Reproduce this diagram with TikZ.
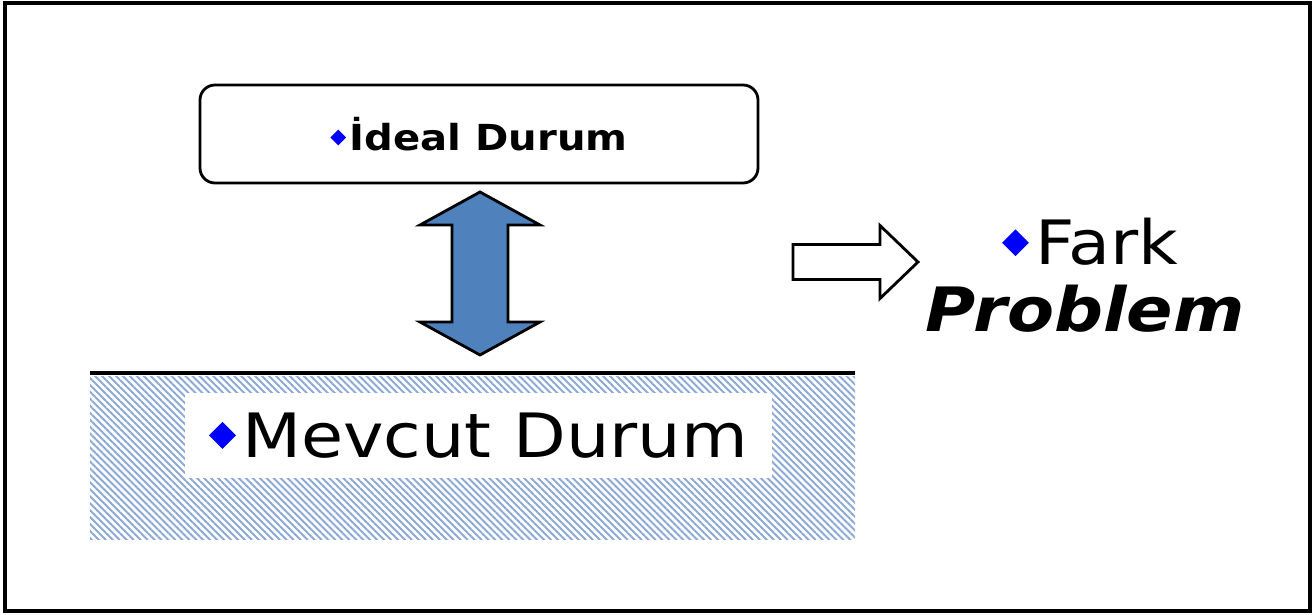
\documentclass[tikz,border=0pt]{standalone}
\usepackage{fontspec}
\setmainfont[FakeStretch=1.12]{DejaVu Sans}
\usepackage{tikz}
\usetikzlibrary{calc}
\usetikzlibrary{patterns.meta}
\definecolor{ofismavi}{RGB}{79,129,189}
\definecolor{tarama}{RGB}{140,168,212}
% small blue bullet in front of each text
\newcommand{\madde}{\tikz[baseline=-0.36em]\fill[blue,draw=none,sharp corners] (0,0.22em)--(0.22em,0)--(0,-0.22em)--(-0.22em,0)--cycle;\hspace{0.1em}}

\begin{document}
\begin{tikzpicture}[
	kutu/.style={draw,line width=0.8pt,rounded corners=1.5mm,minimum width=5.58cm,minimum height=0.98cm},
	blokok/.style={draw,line width=0.8pt,line join=miter},
	buyuk/.style={font=\fontsize{17.4}{20}\selectfont}]
	\useasboundingbox (0,0) rectangle (13.16,6.15);
	\draw[line width=1pt] (0.05,0.04) rectangle (13.10,6.12);
	\node[kutu,font=\bfseries\fontsize{10.2}{12}\selectfont] (ideal) at (4.79,4.81) {\madde İdeal Durum};
	% zemin: taralı alan ve üst çizgisi
	\fill[pattern={Lines[angle=-45,distance=1.4pt,line width=0.55pt]},pattern color=tarama] (0.90,0.75) rectangle (8.55,2.38);
	\draw[line width=1.2pt] (0.90,2.42)--(8.55,2.42);
	\node[buyuk,fill=white,minimum width=5.87cm,minimum height=0.85cm] (mevcut) at (4.785,1.795) {\madde Mevcut Durum};
	% iki yönlü ok
	\coordinate (ust) at (4.80,4.23);
	\draw[blokok,fill=ofismavi] (ust)--++(0.60,-0.33)--++(-0.32,0)--++(0,-0.97)--++(0.32,0)--++(-0.60,-0.33)--++(-0.60,0.33)--++(0.32,0)--++(0,0.97)--++(-0.32,0)--cycle;
	% boş ok
	\coordinate (uc) at (9.18,3.53);
	\draw[blokok,fill=white] (uc)--++(-0.38,0.365)--++(0,-0.19)--++(-0.87,0)--++(0,-0.35)--++(0.87,0)--++(0,-0.19)--cycle;
	\node[buyuk] (fark) at (10.90,3.73) {\madde Fark};
	\node[buyuk,font=\bfseries\itshape\fontsize{17.4}{20}\selectfont] (problem) at (10.85,3.06) {Problem};
\end{tikzpicture}
\end{document}
